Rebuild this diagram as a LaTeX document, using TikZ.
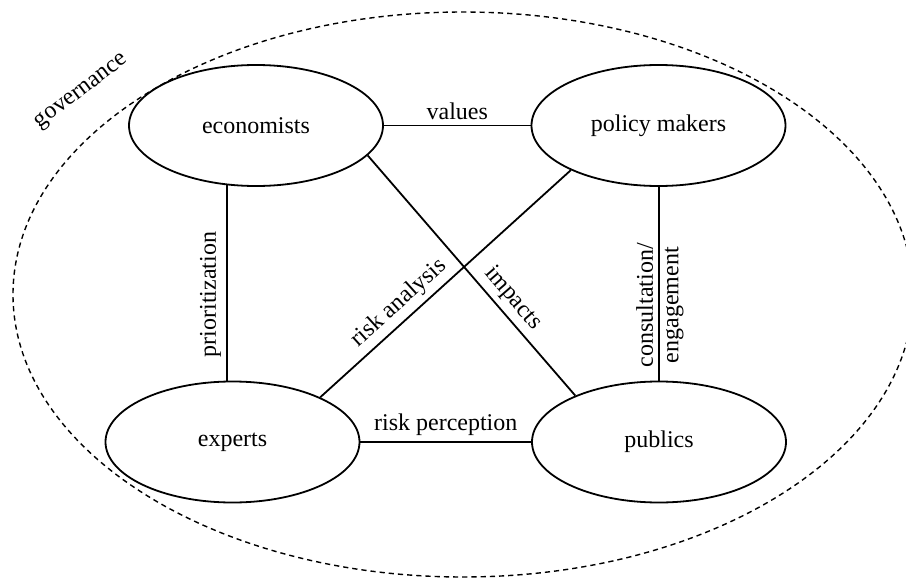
\documentclass[tikz,border=0pt]{standalone}
\usepackage{fontspec}
\setmainfont{Liberation Serif}
\usetikzlibrary{shapes.geometric}
\usetikzlibrary{positioning}

\tikzset{
  akteur/.style={draw, ellipse, line width=0.9pt, minimum width=127pt, minimum height=60.5pt, inner sep=0pt},
  verbindung/.style={line width=0.9pt},
  beschriftung/.style={sloped, inner sep=2.5pt}
}

\begin{document}
\begin{tikzpicture}[x=0.5pt, y=0.5pt, font=\fontsize{12}{14}\selectfont]
    \useasboundingbox (0,0) rectangle (906,580);

    % Rahmen governance
    \draw[dash pattern=on 2.6pt off 2pt, line width=0.7pt] (463,285.5) ellipse (450 and 282.5);
    \node[rotate=37] (gov) at (82,488) {governance};

    % Akteure
    \node[akteur] (econ) at (256,454.5) {economists};
    \node[akteur] (policy) at (658.5,454.5) {policy makers};
    \node[akteur] (experts) at (232.5,138) {experts};
    \node[akteur] (publics) at (659,138) {publics};

    % Verbindungen oben und unten
    \draw[verbindung] (econ.east) -- node[beschriftung, above] {values} (policy.west);
    \draw[verbindung] (experts.east) -- node[beschriftung, above] {risk perception} (publics.west);

    % Verbindungen senkrecht
    \draw[verbindung] (econ.244 |- experts.north) -- node[beschriftung, above, pos=0.44] {prioritization} (econ.244);
    \draw[verbindung] (publics.north) -- node[beschriftung, above, pos=0.39] {consultation/}
        node[beschriftung, below, pos=0.39] {engagement} (publics.north |- policy.south);

    % Diagonalen
    \draw[verbindung] (experts.27.5) -- node[beschriftung, above, pos=0.36] {risk analysis} (policy.207);
    \draw[verbindung] (econ.345) -- node[beschriftung, above, pos=0.64] {impacts} (publics.151);
\end{tikzpicture}
\end{document}
